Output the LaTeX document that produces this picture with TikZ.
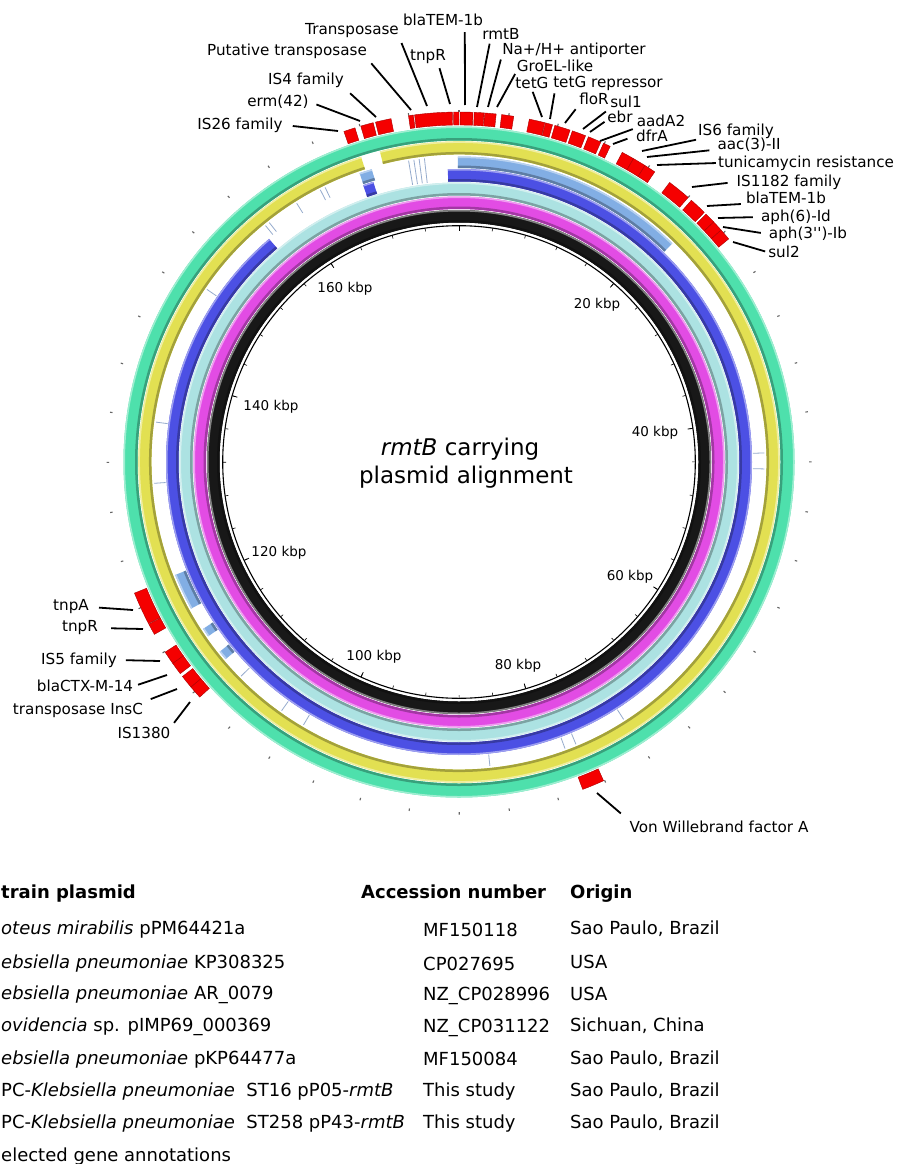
\documentclass[tikz,border=0pt]{standalone}
\usepackage{fontspec}
\setmainfont{DejaVu Sans}

\definecolor{ringgreen}{RGB}{78,224,172}
\definecolor{ringyellow}{RGB}{226,224,82}
\definecolor{ringlight}{RGB}{130,174,228}
\definecolor{ringblue}{RGB}{76,80,228}
\definecolor{ringcyan}{RGB}{172,226,226}
\definecolor{ringmagenta}{RGB}{226,76,228}
\definecolor{ringblack}{RGB}{24,24,24}
\definecolor{genered}{RGB}{245,0,0}
\definecolor{hitline}{RGB}{150,172,205}

% one band of the map, angles clockwise from the top
\newcommand{\bandarc}[5]{%
  \pgfmathsetmacro\bandmid{((#2)+(#3))/2}%
  \pgfmathsetmacro\bandwd{(#3)-(#2)}%
  \pgfmathsetmacro\banda{#4-90}%
  \pgfmathsetmacro\bandb{#5-90}%
  \draw[#1, line width=\bandwd pt] (\banda:\bandmid)
    arc[start angle=\banda, end angle=\bandb, radius=\bandmid];}
\newcommand{\ringarc}[5]{%
  \bandarc{#1}{#2}{#3}{#4}{#5}%
  \bandarc{#1!72!black}{#2}{#2+2.5}{#4}{#5}%
  \bandarc{#1!55!white}{#3-1.5}{#3}{#4}{#5}}
\newcommand{\genebox}[2]{%
  \pgfmathsetmacro\genea{#1-90}%
  \pgfmathsetmacro\geneb{#2-90}%
  \filldraw[gene] (\genea:337) arc[start angle=\genea, end angle=\geneb, radius=337]
    -- (\geneb:350) arc[start angle=\geneb, end angle=\genea, radius=350] -- cycle;}

\begin{document}
\begin{tikzpicture}[x=1pt, y=-1pt,
    glabel/.style={font=\fontsize{15.2}{17}\selectfont, inner sep=1pt},
    lead/.style={line width=1.8pt, black},
    kbp/.style={font=\fontsize{13.5}{15}\selectfont, inner sep=0pt},
    gene/.style={fill=genered, draw=genered!70!black, line width=0.4pt},
    hit/.style={hitline, line width=0.8pt},
    tabtext/.style={font=\fontsize{18}{21}\selectfont, anchor=base west, inner sep=0pt},
    tabhead/.style={tabtext, font=\fontsize{18}{21}\selectfont\bfseries}
]
\useasboundingbox (0,0) rectangle (898,1164);
\fill[white] (0,0) rectangle (898,1164);

\begin{scope}[shift={(459,462)}]
% backbone and the aligned plasmids, inside out
\ringarc{ringblack}{239.5}{252}{0}{360}
\ringarc{ringmagenta}{253}{265.5}{0}{360}
\ringarc{ringcyan}{266.5}{279.5}{0}{360}
\ringarc{ringblue}{280.5}{293}{-2.2}{319.6}
\ringarc{ringblue}{280.5}{293}{-19.1}{-17.0}
\foreach \a/\b in {-0.2/44.3, 241.3/248.3, 235.2/236.9, 229.8/231.6, -19.0/-16.6}
  {\ringarc{ringlight}{294}{305.5}{\a}{\b}}
\ringarc{ringyellow}{307.5}{320.5}{-14.3}{342.2}
\ringarc{ringgreen}{321.5}{335.5}{0}{360}

% short hits
\foreach \t in {88.3,91.3,147.4,157.5,159.7,174.2,210.6,215.5,225.5,266,277.5,304.4,320.7,321.6,327.9,333.0,334.0}
  \draw[hit] ({\t-90}:294) -- ({\t-90}:305.5);
\foreach \t in {-9.5,-8.5,-7.5,-6.5}
  \draw[hit] ({\t-90}:281) -- ({\t-90}:305.5);

% scale
\draw[line width=1.1pt] (0,0) circle[radius=236.3];
\foreach \k in {0,4,...,172} {
  \draw[line width=0.6pt] ({\k*2.045-90}:236) -- ({\k*2.045-90}:233);
  \draw[line width=1.1pt, black!60] ({\k*2.045-90}:350) -- ({\k*2.045-90}:352.5);
}
\foreach \k in {0,20,...,160}
  \draw[line width=0.8pt] ({\k*2.045-90}:236) -- ({\k*2.045-90}:231);

% annotated genes
\foreach \a/\b in {-19.2/-17.3, -16.3/-14.2, -13.8/-11.2, -8.3/-7.5, -7.3/-1.1,
    -0.9/0.0, 0.2/2.3, 2.5/4.1, 4.2/6.1, 7.0/9.0, 11.6/14.2, 14.3/15.5,
    15.9/18.5, 18.9/21.2, 21.7/23.9, 24.4/25.6, 27.8/29.9, 29.9/32.1,
    32.1/34.0, 37.0/40.9, 41.6/44.5, 44.9/46.7, 46.7/48.5, 48.5/50.4,
    155.6/159.3, 227.8/230.0, 230.0/232.2, 232.8/234.9, 234.9/237.1,
    240.5/242.4, 242.5/248.0}
  {\genebox{\a}{\b}}
\end{scope}

\foreach \k/\x/\y in {20/597/305, 40/655/433, 60/630/577, 80/518/666,
    100/374/657, 120/279/553, 140/271/407, 160/345/289}
  \node[kbp] (kbp\k) at (\x,\y) {\k\ kbp};

\node[font=\fontsize{23}{27}\selectfont] (title) at (460,449) {\textit{rmtB} carrying};
\node[font=\fontsize{23}{27}\selectfont] (subtitle) at (466,477) {plasmid alignment};

% gene labels
\node[glabel] (is26)   at (240,125) {IS26 family};
\node[glabel] (erm)    at (278,102) {erm(42)};
\node[glabel] (is4)    at (306,80)  {IS4 family};
\node[glabel] (ptnp)   at (287,51)  {Putative transposase};
\node[glabel] (tnp)    at (352,31)  {Transposase};
\node[glabel] (tnpr)   at (428,57)  {tnpR};
\node[glabel] (tem)    at (443,20)  {blaTEM-1b};
\node[glabel] (rmtb)   at (501,34)  {rmtB};
\node[glabel] (nha)    at (574,50)  {Na+/H+ antiporter};
\node[glabel] (groel)  at (555,66)  {GroEL-like};
\node[glabel] (tetg)   at (532,83)  {tetG};
\node[glabel] (tetr)   at (608,83)  {tetG repressor};
\node[glabel] (flor)   at (594,99)  {floR};
\node[glabel] (sula)   at (626,102) {sul1};
\node[glabel] (ebr)    at (620,117) {ebr};
\node[glabel] (aada)   at (661,121) {aadA2};
\node[glabel] (dfra)   at (652,136) {dfrA};
\node[glabel] (is6)    at (736,131) {IS6 family};
\node[glabel] (aac)    at (749,145) {aac(3)-II};
\node[glabel] (tun)    at (806,163) {tunicamycin resistance};
\node[glabel] (is1182) at (789,182) {IS1182 family};
\node[glabel] (temb)   at (786,198) {blaTEM-1b};
\node[glabel] (aphsix) at (796,217) {aph(6)-Id};
\node[glabel] (aphthr) at (808,234) {aph(3\textquotesingle\textquotesingle)-Ib};
\node[glabel] (sulb)   at (784,252) {sul2};
\node[glabel] (tnpa)   at (71,607)  {tnpA};
\node[glabel] (tnprb)  at (80,628)  {tnpR};
\node[glabel] (is5)    at (79,660)  {IS5 family};
\node[glabel] (ctx)    at (85,686)  {blaCTX-M-14};
\node[glabel] (insc)   at (78,710)  {transposase InsC};
\node[glabel] (is1380) at (144,733) {IS1380};
\node[glabel] (vwf)    at (719,827) {Von Willebrand factor A};

\coordinate (g-is26)   at (338,131);
\coordinate (g-erm)    at (360,121);
\coordinate (g-is4)    at (376,117);
\coordinate (g-ptnp)   at (411,110);
\coordinate (g-tnp)    at (427,106);
\coordinate (g-tnpr)   at (450,104);
\coordinate (g-tem)    at (465,105);
\coordinate (g-rmtb)   at (477,107);
\coordinate (g-nha)    at (488,107);
\coordinate (g-groel)  at (497,107);
\coordinate (g-tetg)   at (542,117);
\coordinate (g-tetr)   at (550,119);
\coordinate (g-flor)   at (565,123);
\coordinate (g-sula)   at (583,129);
\coordinate (g-ebr)    at (590,132);
\coordinate (g-aada)   at (600,141);
\coordinate (g-dfra)   at (613,144);
\coordinate (g-is6)    at (642,151);
\coordinate (g-aac)    at (647,157);
\coordinate (g-tun)    at (657,165);
\coordinate (g-is1182) at (692,187);
\coordinate (g-temb)   at (707,206);
\coordinate (g-aphsix) at (718,218);
\coordinate (g-aphthr) at (723,227);
\coordinate (g-sulb)   at (733,242);
\coordinate (g-tnpa)   at (133,610);
\coordinate (g-tnprb)  at (143,629);
\coordinate (g-is5)    at (160,661);
\coordinate (g-ctx)    at (167,675);
\coordinate (g-insc)   at (177,689);
\coordinate (g-is1380) at (190,702);
\coordinate (g-vwf)    at (597,793);

\path[lead]
    (g-is26) edge[shorten >=9pt] (is26.east)
    (g-erm) edge[shorten >=7pt] (erm.east)
    (g-is4) edge[shorten >=7pt] (is4.south east)
    (g-ptnp) edge[shorten >=5pt] (ptnp.south east)
    (g-tnp) edge[shorten >=4pt] (tnp.south east)
    (g-tnpr) edge[shorten >=3pt] (tnpr.-38)
    (g-tem) edge[shorten >=5pt] (tem.-18)
    (g-rmtb) edge[shorten >=3pt] (rmtb.-148)
    (g-nha) edge[shorten >=1pt] (nha.south west)
    (g-groel) edge[shorten >=1pt] (groel.south west)
    (g-tetg) edge[shorten >=2pt] (tetg.south)
    (g-tetr) edge[shorten >=2pt] (tetr.-171)
    (g-flor) edge[shorten >=4pt] (flor.south west)
    (g-sula) edge[shorten >=4pt] (sula.south west)
    (g-ebr) edge[shorten >=2pt] (ebr.-165)
    (g-aada) edge[shorten >=3pt] (aada.south west)
    (g-dfra) edge[shorten >=8pt] (dfra.west)
    (g-is6) edge[shorten >=1pt] (is6.south west)
    (g-aac) edge[shorten >=7pt] (aac.-172)
    (g-tun) edge[shorten >=1pt] (tun.west)
    (g-is1182) edge[shorten >=8pt] (is1182.west)
    (g-temb) edge[shorten >=4pt] (temb.-172)
    (g-aphsix) edge[shorten >=7pt] (aphsix.west)
    (g-aphthr) edge[shorten >=7pt] (aphthr.west)
    (g-sulb) edge[shorten >=2pt] (sulb.west)
    (g-tnpa) edge[shorten >=9pt] (tnpa.east)
    (g-tnprb) edge[shorten >=12pt] (tnprb.east)
    (g-is5) edge[shorten >=8pt] (is5.east)
    (g-ctx) edge[shorten >=4pt] (ctx.east)
    (g-insc) edge[shorten >=7pt] (insc.north east)
    (g-is1380) edge[shorten >=4pt] (is1380.north east)
    (g-vwf) edge[shorten >=10pt] (vwf.north west);

% legend table
\node[tabhead] (hstrain) at (1,898.5)   {train plasmid};
\node[tabhead] (hacc)    at (361,898.5) {Accession number};
\node[tabhead] (horig)   at (570,898.5) {Origin};

\node[tabtext] (strain1) at (1,934.5) {\textit{oteus mirabilis} pPM64421a};
\node[tabtext] (acc1)    at (423,936.5) {MF150118};
\node[tabtext] (orig1)   at (570,934.5) {Sao Paulo, Brazil};
\node[tabtext] (strain2) at (1,968.5) {\textit{ebsiella pneumoniae} KP308325};
\node[tabtext] (acc2)    at (423,970) {CP027695};
\node[tabtext] (orig2)   at (570,968.5) {USA};
\node[tabtext] (strain3) at (1,999.5) {\textit{ebsiella pneumoniae} AR\_0079};
\node[tabtext] (acc3)    at (423,1000.5) {NZ\_CP028996};
\node[tabtext] (orig3)   at (570,1000.5) {USA};
\node[tabtext] (strain4) at (1,1031.5) {\textit{ovidencia} sp. pIMP69\_000369};
\node[tabtext] (acc4)    at (423,1032.5) {NZ\_CP031122};
\node[tabtext] (orig4)   at (570,1031.5) {Sichuan, China};
\node[tabtext] (strain5) at (1,1064.5) {\textit{ebsiella pneumoniae} pKP64477a};
\node[tabtext] (acc5)    at (423,1065) {MF150084};
\node[tabtext] (orig5)   at (570,1064.5) {Sao Paulo, Brazil};
\node[tabtext] (strain6) at (1,1096.5) {PC-\textit{Klebsiella pneumoniae}\ \ ST16 pP05-\textit{rmtB}};
\node[tabtext] (acc6)    at (423,1096.5) {This study};
\node[tabtext] (orig6)   at (570,1096.5) {Sao Paulo, Brazil};
\node[tabtext] (strain7) at (1,1128.5) {PC-\textit{Klebsiella pneumoniae}\ \ ST258 pP43-\textit{rmtB}};
\node[tabtext] (acc7)    at (423,1128.5) {This study};
\node[tabtext] (orig7)   at (570,1128.5) {Sao Paulo, Brazil};
\node[tabtext] (annot)   at (1,1161) {elected gene annotations};
\end{tikzpicture}
\end{document}
